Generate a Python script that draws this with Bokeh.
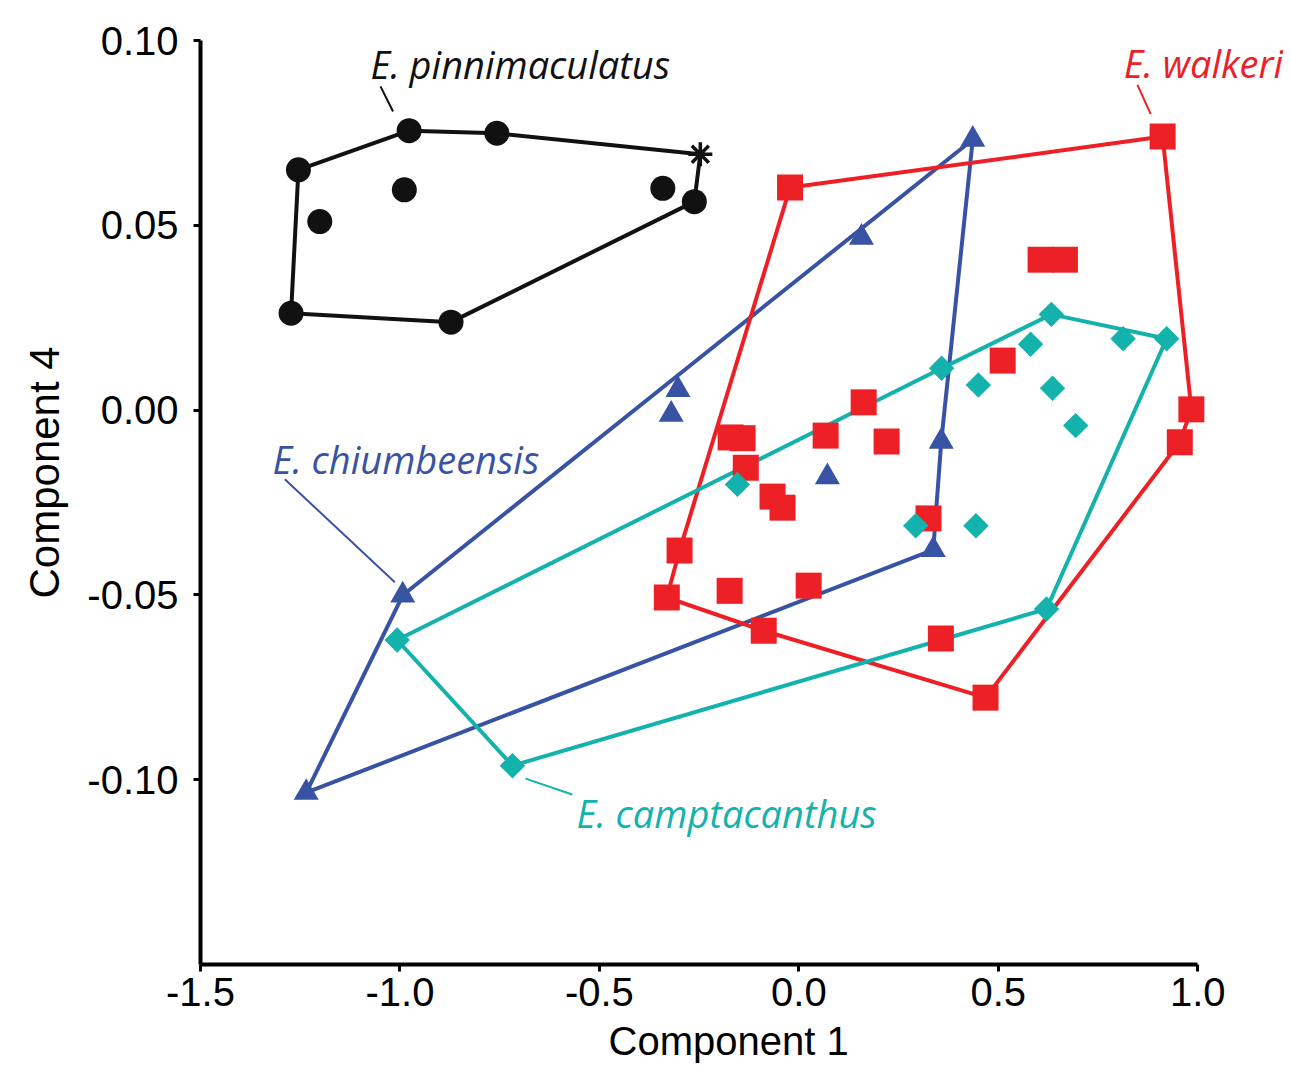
import numpy as np
from bokeh.plotting import figure
from bokeh.models import FixedTicker, Range1d, Title
from bokeh.core.properties import value
from bokeh.embed import file_html
from bokeh.resources import INLINE

# ---------------- data ----------------
# E. pinnimaculatus (index 3 is the asterisk specimen)
pin_x = [-1.2545, -0.977, -0.757, -0.247, -0.262, -0.341, -0.989, -1.201, -1.273, -0.872]
pin_y = [0.0650, 0.0756, 0.0749, 0.0692, 0.0564, 0.0600, 0.0596, 0.0510, 0.0262, 0.0238]
pin_hull = [0, 1, 2, 3, 4, 9, 8, 0]
pin_star = [3]

# E. walkeri
wal_x = [0.912, -0.022, 0.606, 0.667, 0.511, 0.984, 0.955, 0.1625, 0.0672, 0.220,
         -0.171, -0.141, -0.133, -0.066, -0.041, 0.325, -0.299, -0.331, -0.1735,
         0.0246, -0.088, 0.356, 0.468]
wal_y = [0.0740, 0.0602, 0.0407, 0.0407, 0.0134, 0.0002, -0.0087, 0.0021, -0.0069,
         -0.0085, -0.0074, -0.0076, -0.0156, -0.0234, -0.0264, -0.0293, -0.0380,
         -0.0507, -0.0489, -0.0475, -0.0597, -0.0618, -0.0778]
wal_hull = [0, 5, 6, 22, 20, 17, 16, 1, 0]

# E. chiumbeensis
chi_x = [0.436, 0.157, -0.303, -0.320, 0.357, 0.0715, 0.337, -0.993, -1.235]
chi_y = [0.0732, 0.0467, 0.0055, -0.0012, -0.0085, -0.0181, -0.0378, -0.0501, -0.1035]
chi_hull = [0, 4, 6, 8, 7, 0]

# E. camptacanthus
cam_x = [0.633, 0.922, 0.813, 0.581, 0.358, 0.450, 0.636, 0.694, -0.154, 0.293,
         0.444, 0.621, -1.007, -0.718]
cam_y = [0.0259, 0.0193, 0.0193, 0.0178, 0.0113, 0.0068, 0.0059, -0.0042, -0.0201,
         -0.0313, -0.0313, -0.0538, -0.0622, -0.0962]
cam_hull = [12, 4, 0, 1, 11, 13, 12]

# species labels and leader lines
lab_text = ["E. pinnimaculatus", "E. walkeri", "E. chiumbeensis", "E. camptacanthus"]
lab_x = [-1.0737, 0.8144, -1.3195, -0.5572]
lab_y = [0.0903, 0.0907, -0.0166, -0.1123]
lead_x0 = [-1.0487, 0.8488, -1.2886, -0.685]
lead_y0 = [0.0876, 0.0880, -0.0187, -0.0997]
lead_x1 = [-1.0173, 0.8821, -1.0128, -0.568]
lead_y1 = [0.0808, 0.0801, -0.0466, -0.1040]

x_ticks = [-1.5, -1.0, -0.5, 0.0, 0.5, 1.0]
x_tick_labels = ["-1.5", "-1.0", "-0.5", "0.0", "0.5", "1.0"]
y_ticks = [0.10, 0.05, 0.0, -0.05, -0.10]
y_tick_labels = ["0.10", "0.05", "0.00", "-0.05", "-0.10"]
x_title = "Component 1"
y_title = "Component 4"

# ---------------- style ----------------
BLACK = "#111111"
RED = "#ED2026"
BLUE = "#3953A4"
TEAL = "#14B2AC"
lab_colors = [BLACK, RED, BLUE, TEAL]

p = figure(frame_width=1083, frame_height=924,
           x_range=Range1d(-1.5, 1.215), y_range=Range1d(-0.15, 0.10),
           output_backend="svg", toolbar_location=None,
           min_border_left=200, min_border_right=0,
           min_border_top=40, min_border_bottom=108)
p.background_fill_color = "white"
p.outline_line_color = None
p.xgrid.visible = False
p.ygrid.visible = False

for ax, ticks, labels in ((p.xaxis[0], x_ticks, x_tick_labels), (p.yaxis[0], y_ticks, y_tick_labels)):
    ax.ticker = FixedTicker(ticks=ticks)
    ax.major_label_overrides = {t: l for t, l in zip(ticks, labels)}
    ax.minor_tick_line_color = None
    ax.major_tick_in = 0
    ax.major_tick_out = 7
    ax.major_tick_line_width = 3
    ax.major_tick_line_color = "black"
    ax.axis_line_width = 4
    ax.axis_line_color = "black"
    ax.major_label_text_font = "Liberation Sans"
    ax.major_label_text_font_size = "40px"
    ax.major_label_text_color = "black"

p.xaxis.bounds = (-1.5, 1.0)
p.xaxis.major_label_standoff = 6
p.yaxis.major_label_standoff = 15

# axis titles (side titles so they can be placed at the reference position)
p.add_layout(Title(text=x_title, align="left", offset=408, standoff=16,
                   text_font="Liberation Sans", text_font_size="40px",
                   text_font_style="normal", text_color="black"), "below")
p.add_layout(Title(text=y_title, align="left", offset=366, standoff=33,
                   text_font="Liberation Sans", text_font_size="42px",
                   text_font_style="normal", text_color="black"), "left")

LW = 4

def hull(xs, ys, idx):
    return np.array(xs)[idx], np.array(ys)[idx]

for xs, ys, idx, col in ((chi_x, chi_y, chi_hull, BLUE), (wal_x, wal_y, wal_hull, RED),
                         (cam_x, cam_y, cam_hull, TEAL), (pin_x, pin_y, pin_hull, BLACK)):
    hx, hy = hull(xs, ys, idx)
    p.line(hx, hy, line_color=col, line_width=LW)

# leader lines
p.segment(x0=lead_x0, y0=lead_y0, x1=lead_x1, y1=lead_y1, line_color=lab_colors, line_width=2)

# markers
p.scatter(wal_x, wal_y, marker="square", size=26, fill_color=RED, line_color=None)
p.scatter(chi_x, chi_y, marker="triangle", size=25, fill_color=BLUE, line_color=None)
p.scatter(cam_x, cam_y, marker="square", angle=np.pi / 4, size=18, fill_color=TEAL, line_color=None)
pin_dots = [i for i in range(len(pin_x)) if i not in pin_star]
p.scatter([pin_x[i] for i in pin_dots], [pin_y[i] for i in pin_dots], marker="circle",
          size=25, fill_color=BLACK, line_color=None)
p.scatter([pin_x[i] for i in pin_star], [pin_y[i] for i in pin_star], marker="asterisk",
          size=24, line_color=BLACK, line_width=3.5)

# species labels
p.text(x=lab_x, y=lab_y, text=lab_text, text_color=lab_colors,
       text_font=value("Open Sans"), text_font_style="italic", text_font_size="38px",
       text_align="left", text_baseline="alphabetic", y_offset=-12)

open("out.html", "w").write(file_html(p, INLINE))
